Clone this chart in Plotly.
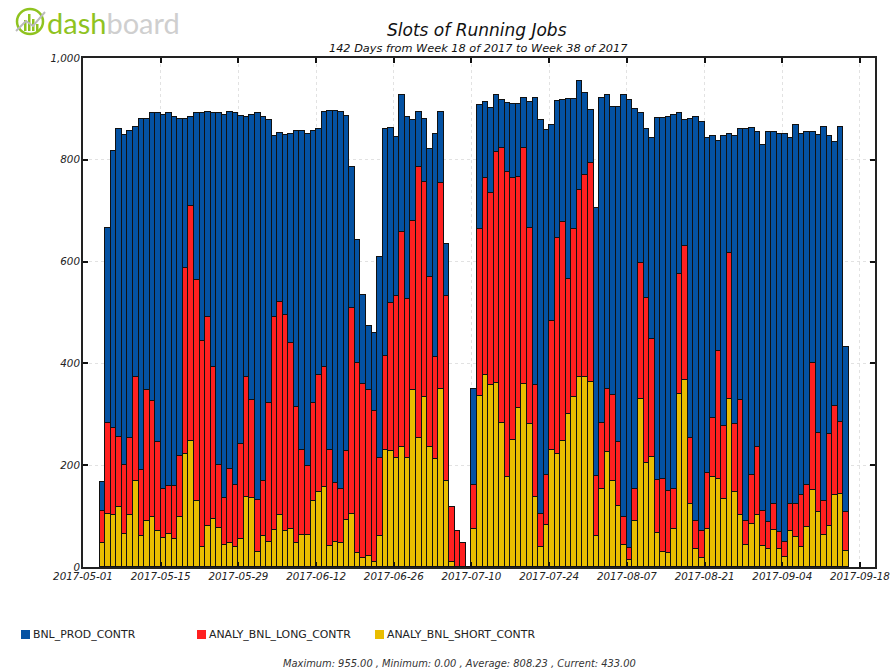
import plotly.graph_objects as go
import pandas as pd

first_day = "2017-05-04"
series_names = ["BNL_PROD_CONTR", "ANALY_BNL_LONG_CONTR", "ANALY_BNL_SHORT_CONTR"]
tick_dates = ["2017-05-01","2017-05-15","2017-05-29","2017-06-12","2017-06-26","2017-07-10",
              "2017-07-24","2017-08-07","2017-08-21","2017-09-04","2017-09-18"]
y_ticks = [0, 200, 400, 600, 800, 1000]

short_contr = [47,105,103,117,65,103,168,60,90,99,70,57,65,55,99,222,248,130,39,81,95,77,43,48,39,55,138,136,29,60,
               49,72,103,70,75,48,63,63,130,148,158,41,49,48,93,105,28,17,21,9,60,230,228,214,236,214,348,254,334,236,
               212,350,168,9,0,0,0,75,336,378,358,362,283,176,250,313,360,280,138,39,83,230,222,248,301,334,373,373,363,60,
               154,225,168,119,43,13,90,330,205,216,67,29,27,75,340,368,123,36,18,75,176,172,134,330,148,103,43,85,103,41,
               36,72,36,20,70,58,39,79,152,108,63,81,141,144,31]
long_contr = [63,178,171,139,136,151,205,130,258,227,175,97,95,105,119,366,461,433,405,410,298,124,93,144,123,186,235,192,103,108,
              273,419,418,425,366,266,167,135,192,229,235,189,116,106,135,403,373,343,327,297,154,185,290,319,422,312,332,531,422,334,
              201,404,365,108,70,48,0,86,328,386,376,454,541,600,514,454,464,386,220,66,98,254,425,430,264,330,367,398,431,118,
              128,125,169,126,55,24,64,268,323,232,103,143,123,79,235,263,131,54,52,110,117,252,143,287,132,225,47,96,133,69,
              52,51,32,29,53,65,102,82,249,156,67,181,176,141,77]
prod_contr = [57,383,544,604,648,602,491,690,532,566,647,735,732,725,662,292,176,329,448,403,499,691,753,702,730,646,512,561,760,717,
              556,356,332,354,410,542,627,653,535,483,501,666,731,740,659,277,241,175,126,154,395,445,344,312,269,358,198,109,124,251,
              438,140,102,0,0,0,0,189,243,150,168,111,94,135,145,142,98,248,564,773,677,385,269,240,355,256,215,160,104,528,
              640,577,567,659,829,881,746,293,332,394,712,710,734,735,317,247,626,794,804,657,554,412,570,234,567,532,770,682,618,719,
              766,731,783,802,719,746,710,693,453,585,734,585,517,579,325]

BLUE, RED, YELLOW = "#0452a3", "#ff2020", "#e9bd00"
GREEN, GREY = "#8fc31f", "#cfcfcf"
FONT = "DejaVu Sans"
L, R, T, B = 83, 875, 58, 567
px = lambda x: (x - L) / (R - L)
py = lambda y: (B - y) / (B - T)

days = pd.date_range(first_day, periods=len(prod_contr), freq="D")
fig = go.Figure()
for name, vals, col in [(series_names[2], short_contr, YELLOW),
                        (series_names[1], long_contr, RED),
                        (series_names[0], prod_contr, BLUE)]:
    fig.add_bar(x=days, y=vals, name=name, marker=dict(color=col, line=dict(color="#111111", width=1)),
                width=86400000, offset=0, showlegend=False)

axis = dict(showline=True, linecolor="#222222", linewidth=2, mirror="ticks", ticks="inside", ticklen=5,
            tickwidth=2, tickcolor="#111111", showgrid=True, gridcolor="#e2e2e2", griddash="dot",
            gridwidth=1, zeroline=False, ticklabelstandoff=-1,
            tickfont=dict(family=FONT, size=10.3, color="#222222", style="italic"))
fig.update_xaxes(type="date", range=["2017-05-01", "2017-09-20 17:00"],
                 tickvals=tick_dates, ticktext=tick_dates, **axis)
fig.update_yaxes(range=[0, 1000], tickvals=y_ticks, tickformat=",d", **axis)

def text(x, y, s, size, color="#111111", anchor="center", style="normal", family=FONT):
    fig.add_annotation(xref="paper", yref="paper", x=px(x), y=py(y), text=s, showarrow=False,
                       xanchor=anchor, yanchor="middle", borderpad=0, borderwidth=0,
                       font=dict(family=family, size=size, color=color, style=style))

def box(x0, y0, x1, y1, color, kind="rect", line=None, width=0):
    fig.add_shape(type=kind, xref="paper", yref="paper", x0=px(x0), x1=px(x1), y0=py(y0), y1=py(y1),
                  fillcolor=color, line=dict(color=line or color, width=width))

text(477, 30, "Slots of Running Jobs", 17, style="italic")
text(478, 48, "142 Days from Week 18 of 2017 to Week 38 of 2017", 11.3, style="italic")
text(459, 663, "Maximum: 955.00 , Minimum: 0.00 , Average: 808.23 , Current: 433.00", 9.9, style="italic", color="#333333")

for x, name, col in zip([21, 197, 375], series_names, [BLUE, RED, YELLOW]):
    box(x, 630, x + 9, 639, col)
    text(x + 12, 634, name, 10.9, anchor="left", color="#222222")

# logo
box(17, 9, 43, 34, "rgba(0,0,0,0)", kind="circle", line=GREEN, width=2.5)
for x0, y0 in [(24, 20), (28, 14), (32, 19), (36, 24)]:
    box(x0, y0, x0 + 2.5, 31, GREEN)
fig.add_shape(type="path", xref="paper", yref="paper", line=dict(color="#bbbbbb", width=2),
              path=f"M {px(16)} {py(31)} L {px(26)} {py(21)} L {px(33)} {py(26)} L {px(45)} {py(12)}")
text(47, 23, '<span style="color:%s">dash</span><span style="color:%s">board</span>' % (GREEN, GREY),
     29, anchor="left", family="Lato")

fig.update_layout(width=893, height=671, autosize=False, barmode="stack", bargap=0,
                  paper_bgcolor="white", plot_bgcolor="white",
                  margin=dict(l=L, r=893 - R, t=T, b=671 - B, autoexpand=False), showlegend=False)
fig.write_html("out.html", config={"displayModeBar": False},
               post_script="document.body.style.margin='0';document.documentElement.style.overflow='hidden';")
